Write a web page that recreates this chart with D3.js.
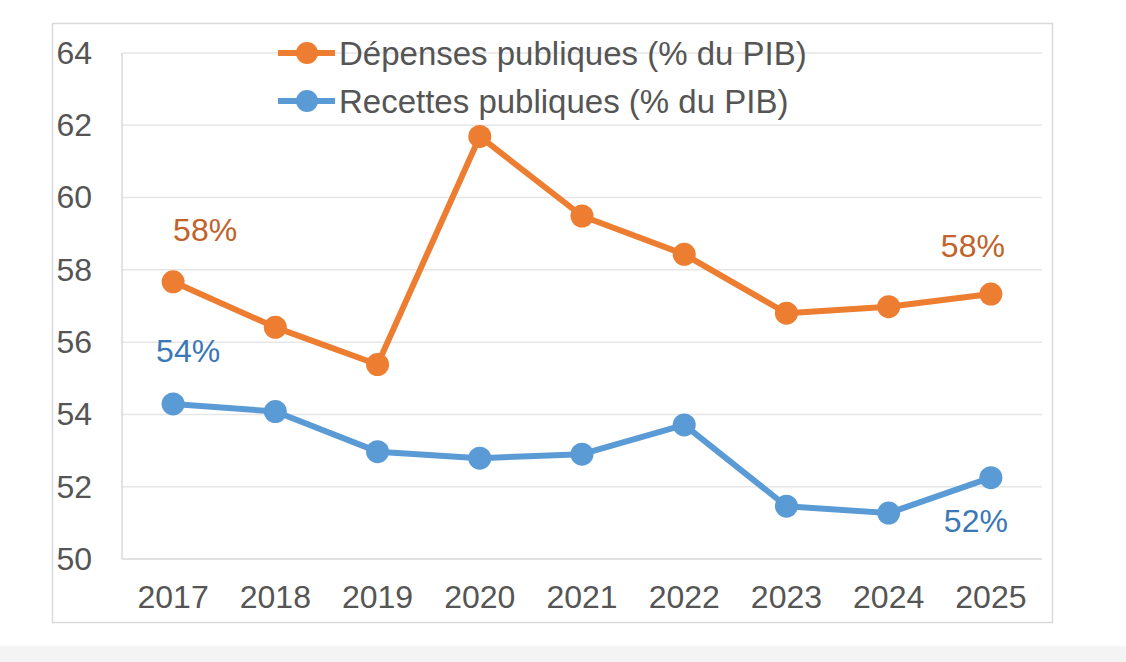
<!DOCTYPE html>
<html>
<head>
<meta charset="utf-8">
<script src="https://cdn.jsdelivr.net/npm/d3@7/dist/d3.min.js"></script>
<style>
  html, body { margin: 0; padding: 0; background: #ffffff; }
  svg { display: block; font-family: "Liberation Sans", Arial, Helvetica, sans-serif; }
</style>
</head>
<body>
<svg id="chart" width="1126" height="662"></svg>
<script>
// ---- Data ----
const years = ["2017", "2018", "2019", "2020", "2021", "2022", "2023", "2024", "2025"];
const depenses = [57.67, 56.41, 55.38, 61.69, 59.49, 58.43, 56.80, 56.98, 57.33];
const recettes = [54.29, 54.08, 52.97, 52.79, 52.90, 53.71, 51.46, 51.27, 52.25];
const yTicks = [50, 52, 54, 56, 58, 60, 62, 64];
const seriesNames = ["Dépenses publiques (% du PIB)", "Recettes publiques (% du PIB)"];
const labelTexts = [
  { series: 0, index: 0, text: "58%" },
  { series: 1, index: 0, text: "54%" },
  { series: 0, index: 8, text: "58%" },
  { series: 1, index: 8, text: "52%" }
];

// ---- Layout / style ----
const labelOffsets = [[32, -41], [15, -42], [-18, -37], [-15, 54]];
const colors = ["#ED7D31", "#5B9BD5"];
const labelColors = ["#C0622A", "#3A78B6"];
const textColor = "#555555";
const gridColor = "#e6e6e6";
const axisColor = "#d9d9d9";

const svg = d3.select("#chart");

// bottom gray band
svg.append("rect").attr("x", 0).attr("y", 646).attr("width", 1126).attr("height", 16).attr("fill", "#f4f4f4");

// frame
svg.append("rect").attr("x", 52.5).attr("y", 23.5).attr("width", 1000).attr("height", 599)
  .attr("fill", "#ffffff").attr("stroke", axisColor).attr("stroke-width", 1.5);

const plot = { left: 122, right: 1042, top: 53, bottom: 559 };

const x = d3.scalePoint().domain(years).range([plot.left, plot.right]).padding(0.5);
const y = d3.scaleLinear().domain([50, 64]).range([plot.bottom, plot.top]);

// gridlines
svg.append("g").selectAll("line").data(yTicks.filter(t => t > 50)).join("line")
  .attr("x1", plot.left).attr("x2", plot.right)
  .attr("y1", d => y(d)).attr("y2", d => y(d))
  .attr("stroke", gridColor).attr("stroke-width", 1.5);

// axis lines
svg.append("line").attr("x1", plot.left).attr("x2", plot.right)
  .attr("y1", y(50)).attr("y2", y(50)).attr("stroke", axisColor).attr("stroke-width", 1.5);
svg.append("line").attr("x1", plot.left).attr("x2", plot.left)
  .attr("y1", y(64)).attr("y2", y(50)).attr("stroke", axisColor).attr("stroke-width", 1.5);

// y tick labels
svg.append("g").selectAll("text").data(yTicks).join("text")
  .attr("x", 92).attr("y", d => y(d)).attr("dy", "0.34em")
  .attr("text-anchor", "end").attr("font-size", 32).attr("fill", textColor)
  .text(d => d);

// x tick labels
svg.append("g").selectAll("text").data(years).join("text")
  .attr("x", d => x(d)).attr("y", 608)
  .attr("text-anchor", "middle").attr("font-size", 32).attr("fill", textColor)
  .text(d => d);

// series
const allSeries = [depenses, recettes];
const line = d3.line().x((d, i) => x(years[i])).y(d => y(d));
allSeries.forEach((vals, s) => {
  svg.append("path").datum(vals).attr("d", line)
    .attr("fill", "none").attr("stroke", colors[s]).attr("stroke-width", 6)
    .attr("stroke-linejoin", "round");
  svg.append("g").selectAll("circle").data(vals).join("circle")
    .attr("cx", (d, i) => x(years[i])).attr("cy", d => y(d)).attr("r", 11.5)
    .attr("fill", colors[s]);
});

// data labels
svg.append("g").selectAll("text").data(labelTexts).join("text")
  .attr("x", (d, k) => x(years[d.index]) + labelOffsets[k][0])
  .attr("y", (d, k) => y(allSeries[d.series][d.index]) + labelOffsets[k][1])
  .attr("text-anchor", "middle").attr("font-size", 32)
  .attr("fill", d => labelColors[d.series])
  .text(d => d.text);

// legend
const legendY = [53, 101];
const legend = svg.append("g");
seriesNames.forEach((name, s) => {
  legend.append("line").attr("x1", 278).attr("x2", 335)
    .attr("y1", legendY[s]).attr("y2", legendY[s])
    .attr("stroke", colors[s]).attr("stroke-width", 6);
  legend.append("circle").attr("cx", 307).attr("cy", legendY[s]).attr("r", 11).attr("fill", colors[s]);
  legend.append("text").attr("x", 339).attr("y", legendY[s] + 12)
    .attr("font-size", 33).attr("fill", textColor).text(name);
});
</script>
</body>
</html>
